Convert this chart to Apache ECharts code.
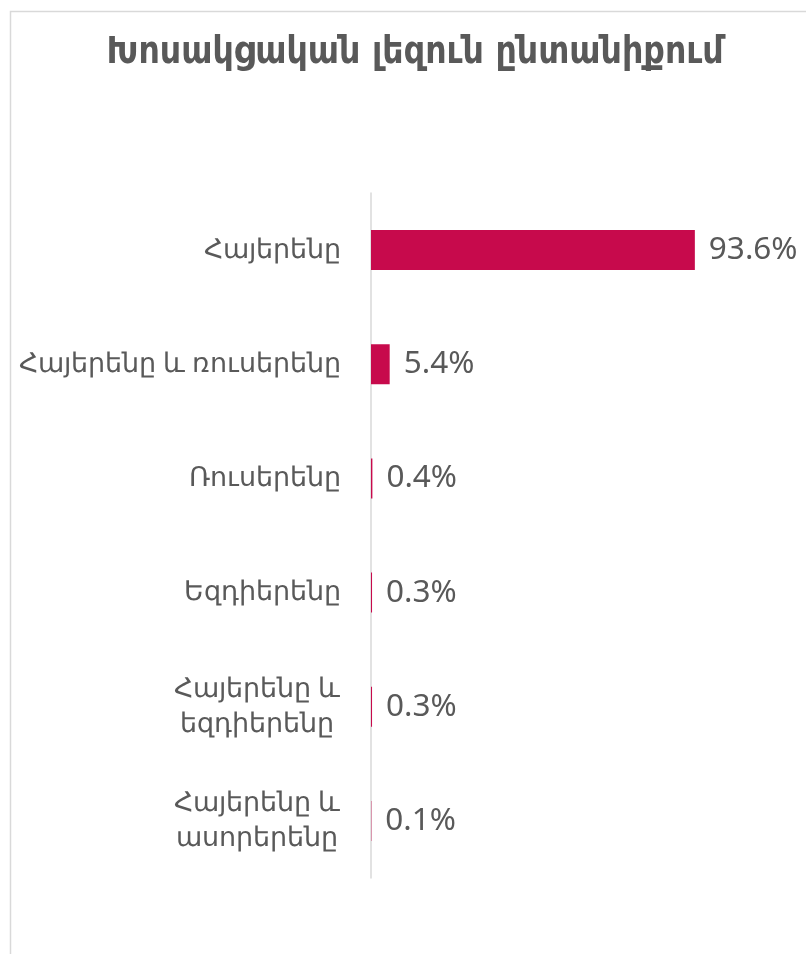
<!DOCTYPE html>
<html>
<head>
<meta charset="utf-8">
<script src="https://cdn.jsdelivr.net/npm/echarts@6/dist/echarts.min.js"></script>
<style>html,body{margin:0;padding:0;background:#fff}#c{width:806px;height:954px}</style>
</head>
<body>
<div id="c"></div>
<script>
const titleText = 'Խոսակցական լեզուն ընտանիքում';
const categories = [
  'Հայերենը',
  'Հայերենը և ռուսերենը',
  'Ռուսերենը',
  'Եզդիերենը',
  'Հայերենը և\nեզդիերենը',
  'Հայերենը և\nասորերենը'
];
const values = [93.6, 5.4, 0.4, 0.3, 0.3, 0.1];

const chart = echarts.init(document.getElementById('c'));
chart.setOption({
  animation: false,
  backgroundColor: '#fff',
  title: {
    text: titleText,
    left: 410, textAlign: 'center', top: 30,
    textStyle: { fontFamily: 'DejaVu Sans Condensed', fontWeight: 'bold', fontSize: 37, color: '#595959' }
  },
  graphic: [{
    type: 'rect', left: 8, top: 9, silent: true,
    shape: { width: 820, height: 960 },
    style: { fill: 'none', stroke: '#d9d9d9', lineWidth: 1.5 }
  }],
  grid: { left: 371, top: 193, width: 346, height: 685, containLabel: false },
  xAxis: {
    type: 'value', min: 0, max: 100, show: false
  },
  yAxis: {
    type: 'category', data: categories, inverse: true,
    axisLine: { show: true, lineStyle: { color: '#d9d9d9', width: 1.5 } },
    axisTick: { show: false },
    axisLabel: {
      margin: 30, fontFamily: 'Noto Sans', fontSize: 27, color: '#595959',
      formatter: function (v) {
        if (v.indexOf('\n') < 0) return v;
        return v.split('\n').map(s => '{c|' + s + '}').join('\n');
      },
      rich: { c: { width: 168, align: 'center', fontFamily: 'Noto Sans', fontSize: 27, color: '#595959', lineHeight: 35 } }
    }
  },
  series: [{
    type: 'bar', data: values, barWidth: 40,
    itemStyle: { color: '#C70A4C' },
    label: {
      show: true, position: 'right', distance: 14,
      formatter: p => p.value.toFixed(1) + '%',
      fontFamily: 'Noto Sans', fontSize: 31.5, color: '#595959'
    }
  }]
});
</script>
</body>
</html>
